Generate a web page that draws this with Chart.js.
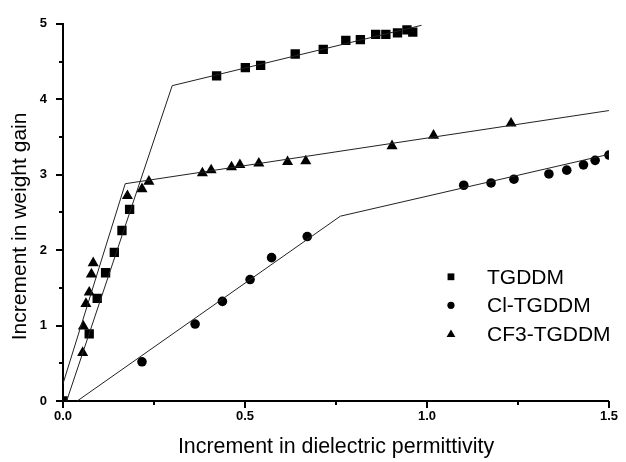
<!DOCTYPE html>
<html>
<head>
<meta charset="utf-8">
<script src="https://cdn.jsdelivr.net/npm/chart.js@4"></script>
<style>
  html, body { margin: 0; padding: 0; background: #fff; }
  #wrap { width: 626px; height: 462px; }
</style>
</head>
<body>
<div id="wrap"><canvas id="chart" width="626" height="462"></canvas></div>
<script>
// measured points
const tgddmX = [0, 0.072, 0.094, 0.117, 0.141, 0.162, 0.183, 0.422, 0.501, 0.543, 0.638, 0.715, 0.777, 0.817, 0.859, 0.887, 0.919, 0.945, 0.961];
const tgddmY = [0, 0.89, 1.36, 1.70, 1.97, 2.26, 2.54, 4.31, 4.42, 4.45, 4.60, 4.66, 4.78, 4.79, 4.86, 4.86, 4.88, 4.92, 4.89];

const clX = [0.217, 0.363, 0.438, 0.514, 0.573, 0.671, 1.101, 1.176, 1.239, 1.335, 1.384, 1.430, 1.462, 1.5];
const clY = [0.52, 1.02, 1.32, 1.61, 1.90, 2.18, 2.86, 2.89, 2.94, 3.01, 3.06, 3.13, 3.19, 3.26];

const cf3X = [0.054, 0.056, 0.063, 0.072, 0.078, 0.083, 0.177, 0.217, 0.236, 0.383, 0.407, 0.463, 0.486, 0.538, 0.617, 0.667, 0.904, 1.018, 1.231];
const cf3Y = [0.64, 0.99, 1.29, 1.44, 1.68, 1.83, 2.72, 2.81, 2.91, 3.02, 3.06, 3.10, 3.13, 3.15, 3.17, 3.18, 3.38, 3.52, 3.68];

// fitted two-segment lines
const tgddmFitX = [0.01, 0.30, 0.985];
const tgddmFitY = [0, 4.18, 4.98];
const clFitX = [0.039, 0.762, 1.5];
const clFitY = [0, 2.45, 3.27];
const cf3FitX = [0, 0.171, 1.5];
const cf3FitY = [0.23, 2.88, 3.85];

const seriesNames = ['TGDDM', 'Cl-TGDDM', 'CF3-TGDDM'];
const xTicks = [0, 0.5, 1.0, 1.5];
const yTicks = [0, 1, 2, 3, 4, 5];
const xTitle = 'Increment in dielectric permittivity';
const yTitle = 'Increment in weight gain';

const FONT = "'Liberation Sans', Arial, Helvetica, sans-serif";

function pts(xs, ys) {
    return xs.map((x, i) => ({ x: x, y: ys[i] }));
}

function fitLine(xs, ys) {
    return {
        data: pts(xs, ys),
        showLine: true,
        borderColor: '#222',
        borderWidth: 1,
        pointRadius: 0,
        fill: false
    };
}

function marker(xs, ys, label, style, r) {
    return {
        label: label,
        data: pts(xs, ys),
        pointStyle: style,
        pointRadius: r,
        pointBackgroundColor: '#000',
        pointBorderColor: '#000',
        pointBorderWidth: 0,
        showLine: false
    };
}

// minor/major tick marks pointing outward
const tickMarks = {
    id: 'tickMarks',
    afterDraw(chart) {
        const ctx = chart.ctx;
        const xs = chart.scales.x, ys = chart.scales.y;
        const area = chart.chartArea;
        ctx.save();
        ctx.strokeStyle = '#000';
        ctx.lineWidth = 2;
        for (let i = 0; i <= 6; i++) {
            const px = Math.round(xs.getPixelForValue(i * 0.25));
            ctx.beginPath();
            ctx.moveTo(px, area.bottom);
            ctx.lineTo(px, area.bottom + (i % 2 === 0 ? 7 : 4));
            ctx.stroke();
        }
        for (let i = 0; i <= 10; i++) {
            const py = Math.round(ys.getPixelForValue(i * 0.5));
            ctx.beginPath();
            ctx.moveTo(area.left, py);
            ctx.lineTo(area.left - (i % 2 === 0 ? 7 : 4), py);
            ctx.stroke();
        }
        ctx.restore();
    }
};

// y title sits a little below the middle in the original
const yTitleDraw = {
    id: 'yTitleDraw',
    afterDraw(chart) {
        const ctx = chart.ctx;
        const area = chart.chartArea;
        ctx.save();
        ctx.translate(20, (area.top + area.bottom) / 2 + 14);
        ctx.rotate(-Math.PI / 2);
        ctx.fillStyle = '#000';
        ctx.font = '21px ' + FONT;
        ctx.textAlign = 'center';
        ctx.textBaseline = 'middle';
        ctx.fillText(yTitle, 0, 0);
        ctx.restore();
    }
};

// legend inside plot, lower right
const insideLegend = {
    id: 'insideLegend',
    afterDraw(chart) {
        const ctx = chart.ctx;
        const area = chart.chartArea;
        const mx = area.right - 158;
        const tx = area.right - 122;
        const y0 = area.top + 253;
        const styles = ['rect', 'circle', 'triangle'];
        ctx.save();
        ctx.fillStyle = '#000';
        ctx.font = '21px ' + FONT;
        ctx.textBaseline = 'middle';
        styles.forEach((s, i) => {
            const y = y0 + i * 28.5;
            ctx.beginPath();
            if (s === 'rect') {
                ctx.rect(mx - 3.4, y - 3.4, 6.8, 6.8);
            } else if (s === 'circle') {
                ctx.arc(mx, y, 3.6, 0, Math.PI * 2);
            } else {
                ctx.moveTo(mx, y - 4.4);
                ctx.lineTo(mx + 4.4, y + 3.2);
                ctx.lineTo(mx - 4.4, y + 3.2);
                ctx.closePath();
            }
            ctx.fill();
            ctx.fillText(seriesNames[i], tx, y + 1);
        });
        ctx.restore();
    }
};

new Chart(document.getElementById('chart').getContext('2d'), {
    type: 'scatter',
    data: {
        datasets: [
            fitLine(tgddmFitX, tgddmFitY),
            fitLine(clFitX, clFitY),
            fitLine(cf3FitX, cf3FitY),
            marker(tgddmX, tgddmY, seriesNames[0], 'rect', 6.6),
            marker(clX, clY, seriesNames[1], 'circle', 4.8),
            marker(cf3X, cf3Y, seriesNames[2], 'triangle', 6.4)
        ]
    },
    options: {
        responsive: false,
        animation: false,
        devicePixelRatio: 1,
        layout: { padding: { top: 22, right: 11, bottom: 0, left: 0 } },
        plugins: {
            legend: { display: false },
            tooltip: { enabled: false }
        },
        scales: {
            x: {
                type: 'linear',
                min: 0,
                max: 1.5,
                afterBuildTicks: s => { s.ticks = xTicks.map(v => ({ value: v })); },
                afterFit: s => { s.height = 61; },
                grid: { display: false, drawTicks: false, tickLength: 0 },
                border: { display: true, color: '#000', width: 2 },
                ticks: {
                    padding: 8,
                    color: '#000',
                    font: { family: FONT, size: 13, weight: 'bold' },
                    callback: v => Number(v).toFixed(1)
                },
                title: {
                    display: true,
                    text: xTitle,
                    color: '#000',
                    font: { family: FONT, size: 21.4 },
                    padding: { top: 4, bottom: 2 }
                }
            },
            y: {
                type: 'linear',
                min: 0,
                max: 5,
                afterBuildTicks: s => { s.ticks = yTicks.map(v => ({ value: v })); },
                afterFit: s => { s.width = 63; },
                grid: { display: false, drawTicks: false, tickLength: 0 },
                border: { display: true, color: '#000', width: 2 },
                ticks: {
                    padding: 16,
                    color: '#000',
                    font: { family: FONT, size: 13, weight: 'bold' },
                    callback: v => String(v)
                },
                title: { display: false }
            }
        }
    },
    plugins: [tickMarks, yTitleDraw, insideLegend]
});
</script>
</body>
</html>
